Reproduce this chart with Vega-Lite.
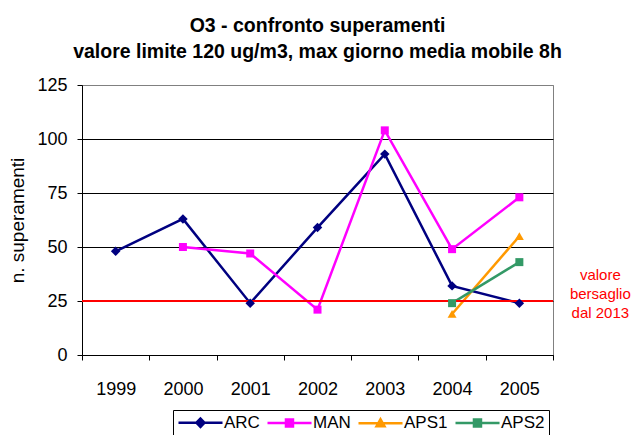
{
  "$schema": "https://vega.github.io/schema/vega-lite/v6.json",
  "width": 471,
  "height": 270,
  "autosize": {"type": "none"},
  "padding": {"left": 82, "top": 85, "right": 79, "bottom": 80},
  "background": "white",
  "title": {
    "text": ["O3 - confronto superamenti", "valore limite 120 ug/m3, max giorno media mobile 8h"],
    "font": "Liberation Sans",
    "fontSize": 19.5,
    "fontWeight": "bold",
    "color": "black",
    "lineHeight": 26,
    "anchor": "middle",
    "offset": 14
  },
  "config": {
    "font": "Liberation Sans",
    "view": {"stroke": "#808080", "strokeWidth": 1},
    "axis": {
      "labelFont": "Liberation Sans",
      "titleFont": "Liberation Sans",
      "labelColor": "black",
      "titleColor": "black",
      "domainColor": "black",
      "tickColor": "black",
      "domainWidth": 1,
      "tickWidth": 1
    },
    "legend": {
      "orient": "none",
      "legendX": 91,
      "legendY": 325,
      "direction": "horizontal",
      "strokeColor": "black",
      "fillColor": "white",
      "padding": 4,
      "symbolSize": 196,
      "symbolStrokeWidth": 2.5,
      "labelFontSize": 17,
      "labelFont": "Liberation Sans",
      "labelColor": "black",
      "labelOffset": 30,
      "columnPadding": 2
    }
  },
  "data": {
    "values": [
      {"series": "ARC", "year": "1999", "value": 48},
      {"series": "ARC", "year": "2000", "value": 63},
      {"series": "ARC", "year": "2001", "value": 24},
      {"series": "ARC", "year": "2002", "value": 59},
      {"series": "ARC", "year": "2003", "value": 93},
      {"series": "ARC", "year": "2004", "value": 32},
      {"series": "ARC", "year": "2005", "value": 24},
      {"series": "MAN", "year": "2000", "value": 50},
      {"series": "MAN", "year": "2001", "value": 47},
      {"series": "MAN", "year": "2002", "value": 21},
      {"series": "MAN", "year": "2003", "value": 104},
      {"series": "MAN", "year": "2004", "value": 49},
      {"series": "MAN", "year": "2005", "value": 73},
      {"series": "APS1", "year": "2004", "value": 19},
      {"series": "APS1", "year": "2005", "value": 55},
      {"series": "APS2", "year": "2004", "value": 24},
      {"series": "APS2", "year": "2005", "value": 43}
    ]
  },
  "layer": [
    {
      "mark": {"type": "line", "strokeWidth": 2.5},
      "encoding": {
        "x": {
          "field": "year", "type": "ordinal",
          "scale": {"type": "band", "paddingInner": 0, "paddingOuter": 0, "domain": ["1999", "2000", "2001", "2002", "2003", "2004", "2005"]},
          "axis": {"title": null, "labelAngle": 0, "tickBand": "extent", "grid": false, "labelFontSize": 18, "labelPadding": 20, "tickSize": 5}
        },
        "y": {
          "field": "value", "type": "quantitative",
          "scale": {"domain": [0, 125], "nice": false},
          "axis": {
            "values": [0, 25, 50, 75, 100, 125],
            "title": "n. superamenti",
            "titleFontSize": 19,
            "titleFontWeight": "normal",
            "titlePadding": 9,
            "grid": true,
            "gridColor": {"condition": {"test": "datum.value == 125", "value": "#808080"}, "value": "black"},
            "gridOpacity": 1,
            "labelFontSize": 18,
            "labelPadding": 10,
            "tickSize": 5
          }
        },
        "color": {
          "field": "series", "type": "nominal",
          "scale": {"domain": ["ARC", "MAN", "APS1", "APS2"], "range": ["#000080", "#FF00FF", "#FF9900", "#339966"]},
          "legend": {
            "title": null,
            "encode": {
              "symbols": {
                "update": {
                  "shape": {"signal": "datum.value === 'ARC' ? 'M-1,0H5.29M1.57,0L2.14,-0.6L2.71,0L2.14,0.6Z' : datum.value === 'APS1' ? 'M-1,0H5.29M1.57,0.43L2.14,-0.57L2.71,0.43Z' : 'M-1,0H5.29M1.64,-0.5H2.64V0.5H1.64Z'"},
                  "size": {"value": 196},
                  "strokeWidth": {"value": 2.5}
                }
              }
            }
          }
        },
        "detail": {"field": "series"}
      }
    },
    {
      "mark": {"type": "rule", "color": "#FF0000", "strokeWidth": 2},
      "data": {"values": [{"target": 25}]},
      "encoding": {"y": {"field": "target", "type": "quantitative"}}
    },
    {
      "transform": [{"filter": "datum.series === 'ARC'"}],
      "mark": {"type": "point", "filled": true, "opacity": 1, "shape": "diamond", "size": 90},
      "encoding": {
        "x": {"field": "year", "type": "ordinal"},
        "y": {"field": "value", "type": "quantitative"},
        "color": {"field": "series", "type": "nominal"}
      }
    },
    {
      "transform": [{"filter": "datum.series === 'MAN' || datum.series === 'APS2'"}],
      "mark": {"type": "point", "filled": true, "opacity": 1, "shape": "square", "size": 64},
      "encoding": {
        "x": {"field": "year", "type": "ordinal"},
        "y": {"field": "value", "type": "quantitative"},
        "color": {"field": "series", "type": "nominal"}
      }
    },
    {
      "transform": [{"filter": "datum.series === 'APS1'"}],
      "mark": {"type": "point", "filled": true, "opacity": 1, "shape": "triangle-up", "size": 80},
      "encoding": {
        "x": {"field": "year", "type": "ordinal"},
        "y": {"field": "value", "type": "quantitative"},
        "color": {"field": "series", "type": "nominal"}
      }
    },
    {
      "mark": {"type": "text", "color": "#FF0000", "fontSize": 15, "lineHeight": 19, "align": "center", "baseline": "middle", "dx": 81},
      "data": {"values": [{"year": "2005", "value": 37, "note": ["valore", "bersaglio", "dal 2013"]}]},
      "encoding": {
        "x": {"field": "year", "type": "ordinal"},
        "y": {"field": "value", "type": "quantitative"},
        "text": {"field": "note"}
      }
    }
  ]
}
